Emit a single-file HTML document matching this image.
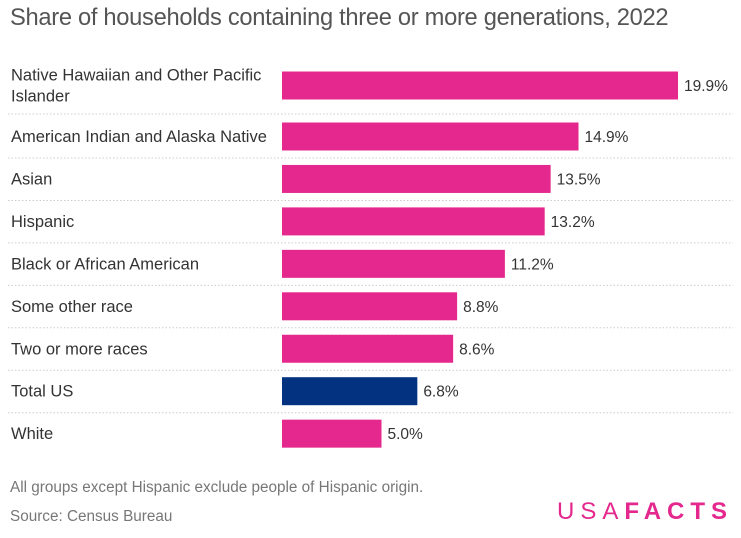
<!DOCTYPE html>
<html><head><meta charset="utf-8">
<style>
body{margin:0;width:741px;height:538px;background:#fff;font-family:"Liberation Sans",sans-serif;overflow:hidden;position:relative}
#title{position:absolute;left:10px;top:5px;font-size:23.7px;color:#555;letter-spacing:-0.3px}
.foot{position:absolute;left:10px;font-size:15.3px;color:#777}
#logo{position:absolute;left:557px;top:498px;font-size:24px;color:#e5288d;letter-spacing:6px}
</style></head><body>
<div id="title">Share of households containing three or more generations, 2022</div>
<svg id="chart" width="741" height="470" style="position:absolute;left:0;top:0"></svg>
<div class="foot" style="top:479px">All groups except Hispanic exclude people of Hispanic origin.</div>
<div class="foot" style="top:508px">Source: Census Bureau</div>
<div id="logo"><span style="font-weight:300">USA</span><span style="font-weight:bold">FACTS</span></div>
<script>
const categories=[["Native Hawaiian and Other Pacific","Islander"],["American Indian and Alaska Native"],["Asian"],["Hispanic"],["Black or African American"],["Some other race"],["Two or more races"],["Total US"],["White"]];
const values=[19.9,14.9,13.5,13.2,11.2,8.8,8.6,6.8,5.0];
const highlight=[false,false,false,false,false,false,false,true,false];
const svg=document.getElementById('chart');
const NS='http://www.w3.org/2000/svg';
const x0=282, pxPer=19.9;
function xScale(v){return v*pxPer;}
function yCenter(i){return i===0?85.5:136.5+(i-1)*42.45;}
const barH=28;
values.forEach((v,i)=>{
  const cy=yCenter(i);
  const r=document.createElementNS(NS,'rect');
  r.setAttribute('x',x0);r.setAttribute('y',cy-barH/2);
  r.setAttribute('width',xScale(v));r.setAttribute('height',barH);
  r.setAttribute('fill',highlight[i]?'#033380':'#e5288d');
  
  
  svg.appendChild(r);
  const t=document.createElementNS(NS,'text');
  t.setAttribute('x',x0+xScale(v)+6);t.setAttribute('y',cy+5.5);
  t.setAttribute('font-size','15.5');t.setAttribute('fill','#333');
  t.textContent=v.toFixed(1)+'%';
  
  
  svg.appendChild(t);
  const lab=categories[i];
  const lt=document.createElementNS(NS,'text');
  lt.setAttribute('x',11);lt.setAttribute('font-size','16.5');lt.setAttribute('fill','#333');
  
  
  lab.forEach((s,k)=>{
    const ts=document.createElementNS(NS,'tspan');
    ts.setAttribute('x',11);
    ts.setAttribute('y',cy+5.5+(k-(lab.length-1)/2)*21);
    ts.textContent=s;lt.appendChild(ts);
  });
  svg.appendChild(lt);
  if(i<values.length-1){
    const sy=i===0?114:yCenter(i)+21.5;
    const l=document.createElementNS(NS,'line');
    l.setAttribute('x1',8);l.setAttribute('x2',733);l.setAttribute('y1',sy);l.setAttribute('y2',sy);
    l.setAttribute('stroke','#ccc');l.setAttribute('stroke-dasharray','1.5,2');
    
    
    svg.appendChild(l);
  }
});
</script>
</body></html>
